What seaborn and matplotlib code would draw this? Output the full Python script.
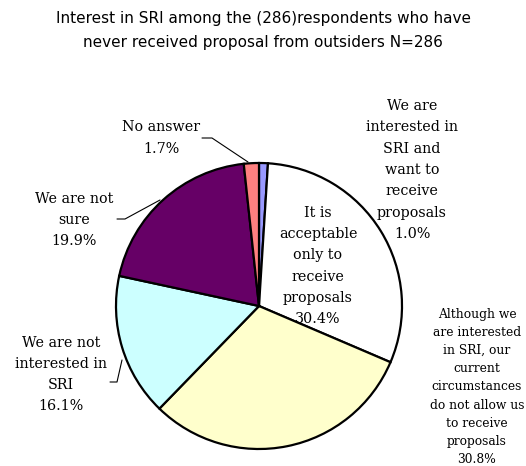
import matplotlib
matplotlib.use("Agg")
import matplotlib.pyplot as plt
import seaborn as sns

sns.set_style("white")

# ---- data ----
categories = [
    "We are\ninterested in\nSRI and\nwant to\nreceive\nproposals",
    "It is\nacceptable\nonly to\nreceive\nproposals",
    "Although we\nare interested\nin SRI, our\ncurrent\ncircumstances\ndo not allow us\nto receive\nproposals",
    "We are not\ninterested in\nSRI",
    "We are not\nsure",
    "No answer",
]
values = [1.0, 30.4, 30.8, 16.1, 19.9, 1.7]
colors = ["#9999FF", "#FFFFFF", "#FFFFCC", "#CCFFFF", "#660066", "#FF8080"]
title = "Interest in SRI among the (286)respondents who have\nnever received proposal from outsiders N=286"

# ---- layout (pixel coords, y up) ----
W, H = 526, 466
fig = plt.figure(figsize=(W / 100, H / 100), dpi=100)
ax = fig.add_axes([0, 0, 1, 1])

ax.pie(values, colors=colors, startangle=90, counterclock=False,
       center=(259, H - 306), radius=143,
       wedgeprops=dict(edgecolor="black", linewidth=1.6))
ax.set_xlim(0, W)
ax.set_ylim(0, H)
ax.set_aspect("equal")
ax.axis("off")

label_pos = [(412, H - 170), (318, H - 266), (477, H - 387),
             (61, H - 374.5), (74, H - 220), (161, H - 138)]
label_size = [10.3, 10.3, 8.8, 10.3, 10.3, 10.3]
label_ls = [1.66, 1.66, 1.52, 1.66, 1.66, 1.66]
for cat, v, (x, y), fs, ls in zip(categories, values, label_pos, label_size, label_ls):
    ax.text(x, y, f"{cat}\n{v:.1f}%", ha="center", va="center", fontsize=fs,
            family="DejaVu Serif", linespacing=ls, color="black")

# leader lines
leaders = [
    [(202, H - 138), (212, H - 138), (248, H - 162)],
    [(117, H - 219), (125, H - 219), (160, H - 200)],
    [(110, H - 382), (117, H - 382), (122, H - 360)],
]
for pts in leaders:
    xs, ys = zip(*pts)
    ax.plot(xs, ys, color="black", lw=0.8)

fig.text(0.5, 1 - 30 / H, title, ha="center", va="center", fontsize=11,
         family="DejaVu Sans", linespacing=1.75, color="black")

fig.savefig("out.png", dpi=100, facecolor="white")
